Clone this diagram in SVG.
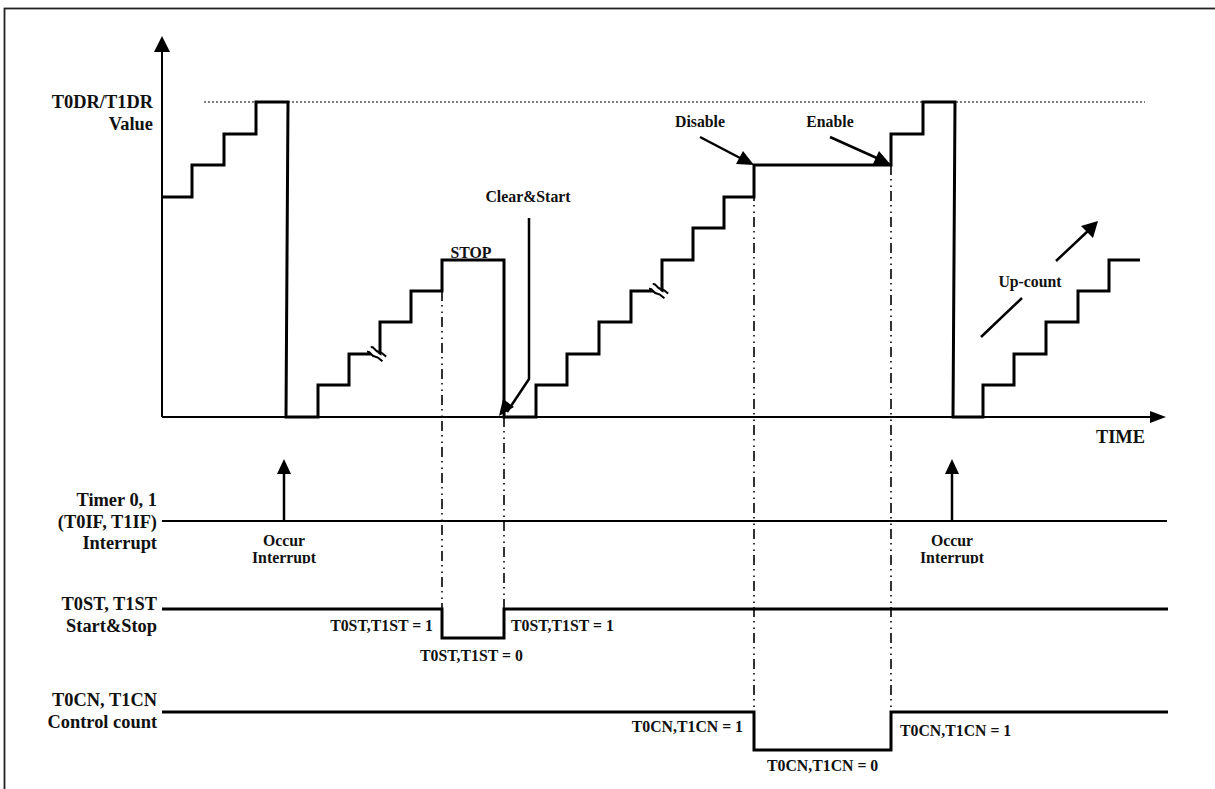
<svg xmlns="http://www.w3.org/2000/svg" width="1215" height="789" viewBox="0 0 1215 789">
<style>
  .lbl { font-family: "Liberation Serif", "Times New Roman", serif; font-weight: bold; font-size: 18.4px; fill: #111; }
  .ann { font-family: "Liberation Serif", "Times New Roman", serif; font-weight: bold; font-size: 15.8px; fill: #111; }
  .wave { fill: none; stroke: #000; stroke-width: 3; stroke-linejoin: miter; }
  .axis { fill: none; stroke: #000; stroke-width: 2; }
  .thin { fill: none; stroke: #000; stroke-width: 2.5; }
  .dd { fill: none; stroke: #000; stroke-width: 1.6; stroke-dasharray: 10 4 1.5 5 1.5 4; }
  .dot { fill: none; stroke: #000; stroke-width: 1; stroke-dasharray: 2 2; }
  .brk { fill: none; stroke: #000; stroke-width: 2; }
</style>
<defs>
  <marker id="ah" viewBox="0 0 10 10" refX="10" refY="5" markerWidth="6" markerHeight="6" markerUnits="strokeWidth" orient="auto">
    <path d="M0,0 L10,5 L0,10 z" fill="#000"/>
  </marker>
  <clipPath id="clipOcc"><rect x="0" y="0" width="1215" height="563.5"/></clipPath>
</defs>
<rect x="4.5" y="8.5" width="1230" height="800" fill="#fff" stroke="#222" stroke-width="1.8"/>

<g id="axes">
  <path class="axis" d="M162,417 V52"/>
  <path d="M154,52 L162,36 L170,52 z" fill="#000"/>
  <path class="axis" d="M162,417 H1151"/>
  <path d="M1150,411 L1166,417 L1150,423 z" fill="#000"/>
  <path class="dot" d="M204,102 H1145"/>
  <text class="lbl" x="153" y="108" text-anchor="end">T0DR/T1DR</text>
  <text class="lbl" x="153" y="130" text-anchor="end">Value</text>
  <text class="lbl" x="1145" y="443" text-anchor="end">TIME</text>
</g>

<g id="counter-wave">
  <path class="wave" d="M162,197 H192 V165 H224 V134 H256 V102 H288 L286,417 H318 V385 H349 V354 H380 V322 H411 V291 H442 V260 H504 V417 H536 V385 H567 V354 H599 V322 H631 V291 H662 V260 H693 V228 H724 V197 H754 V165 H891 V134 H923 V102 H955 L953,417 H983 V385 H1014 V354 H1046 V322 H1078 V291 H1109 V260 H1140"/>
  <g transform="translate(376,355) rotate(38)">
    <rect x="-9" y="-2.5" width="18" height="5" fill="#fff"/>
    <path class="brk" d="M-9,-3 c3,-3 5,1 9,-1 s6,-1 9,-1"/>
    <path class="brk" d="M-9,3 c3,-3 5,1 9,-1 s6,-1 9,-1"/>
  </g>
  <g transform="translate(658,292) rotate(38)">
    <rect x="-9" y="-2.5" width="18" height="5" fill="#fff"/>
    <path class="brk" d="M-9,-3 c3,-3 5,1 9,-1 s6,-1 9,-1"/>
    <path class="brk" d="M-9,3 c3,-3 5,1 9,-1 s6,-1 9,-1"/>
  </g>
</g>

<g id="annotations">
  <text class="ann" x="471" y="258" text-anchor="middle">STOP</text>
  <text class="ann" x="528" y="202" text-anchor="middle">Clear&amp;Start</text>
  <path class="thin" d="M529,218 V379 L507,412"/>
  <path d="M499,416 L503,399 L514,407 z" fill="#000" transform="rotate(0)"/>
  <text class="ann" x="700" y="127" text-anchor="middle">Disable</text>
  <path class="thin" d="M700,137 L742,159"/>
  <path d="M754,165 L736,164 L743,151 z" fill="#000"/>
  <text class="ann" x="830" y="127" text-anchor="middle">Enable</text>
  <path class="thin" d="M830,137 L879,159"/>
  <path d="M891,165 L873,164 L879,151 z" fill="#000"/>
  <text class="ann" x="1030" y="287" text-anchor="middle">Up-count</text>
  <path class="thin" d="M981,337 L1022,298 M1056,261 L1089,230"/>
  <path d="M1098,221 L1093,238 L1081,226 z" fill="#000"/>
</g>

<g id="guides">
  <path class="dd" d="M442,291 V608"/>
  <path class="dd" d="M504,417 V608"/>
  <path class="dd" d="M754,165 V711"/>
  <path class="dd" d="M891,165 V711"/>
</g>

<g id="interrupt-signal">
  <text class="lbl" x="157" y="506" text-anchor="end">Timer 0, 1</text>
  <text class="lbl" x="157" y="528" text-anchor="end">(T0IF, T1IF)</text>
  <text class="lbl" x="157" y="549" text-anchor="end">Interrupt</text>
  <path class="axis" d="M162,521 H1167"/>
  <path class="thin" d="M284,521 V473"/>
  <path d="M277,474 L284,459 L291,474 z" fill="#000"/>
  <path class="thin" d="M952,521 V473"/>
  <path d="M945,474 L952,459 L959,474 z" fill="#000"/>
  <g clip-path="url(#clipOcc)">
    <text class="ann" x="284" y="546" text-anchor="middle">Occur</text>
    <text class="ann" x="284" y="563" text-anchor="middle">Interrupt</text>
    <text class="ann" x="952" y="546" text-anchor="middle">Occur</text>
    <text class="ann" x="952" y="563" text-anchor="middle">Interrupt</text>
  </g>
</g>

<g id="start-stop-signal">
  <text class="lbl" x="157" y="610" text-anchor="end">T0ST, T1ST</text>
  <text class="lbl" x="157" y="632" text-anchor="end">Start&amp;Stop</text>
  <path class="wave" d="M162,609 H442 V638 H504 V609 H1168"/>
  <text class="ann" x="433" y="631" text-anchor="end">T0ST,T1ST = 1</text>
  <text class="ann" x="511" y="631">T0ST,T1ST = 1</text>
  <text class="ann" x="420" y="661">T0ST,T1ST = 0</text>
</g>

<g id="control-signal">
  <text class="lbl" x="157" y="706" text-anchor="end">T0CN, T1CN</text>
  <text class="lbl" x="157" y="728" text-anchor="end">Control count</text>
  <path class="wave" d="M162,712 H754 V750 H891 V712 H1168"/>
  <text class="ann" x="743" y="732" text-anchor="end">T0CN,T1CN = 1</text>
  <text class="ann" x="900" y="736">T0CN,T1CN = 1</text>
  <text class="ann" x="767" y="771">T0CN,T1CN = 0</text>
</g>
</svg>
